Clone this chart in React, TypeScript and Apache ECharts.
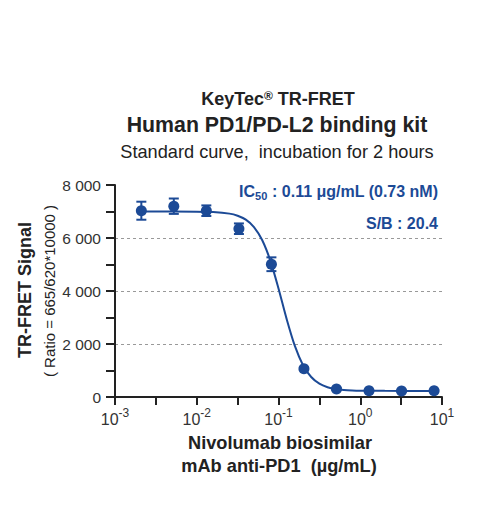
import React, { useEffect, useRef } from 'react';
import * as echarts from 'echarts';

// Concentrations (µg/mL) of the measured points
const concentrations = [0.0021, 0.00524, 0.0131, 0.0328, 0.0819, 0.2048, 0.512, 1.28, 3.2, 8];
// Mean TR-FRET signal and SD
const signalMean = [7030, 7200, 7030, 6350, 5010, 1070, 300, 240, 225, 235];
const signalSD = [340, 290, 200, 200, 260, 50, 40, 30, 30, 30];
// Fitted curve (log10 concentration, signal)
const fitLogConc = [-2.68, -2.0, -1.8, -1.6, -1.5, -1.4, -1.3, -1.2, -1.1, -1.0, -0.9, -0.8, -0.7, -0.6, -0.5, -0.4, -0.3, -0.2, -0.1, 0, 0.3, 0.9];
const fitSignal = [7000, 6995, 6980, 6920, 6840, 6694, 6415, 5924, 5147, 4095, 2938, 1927, 1201, 755, 503, 370, 301, 266, 248, 239, 232, 230];
// Axis ranges / ticks
const xExpMin = -3;
const xExpMax = 1;
const yMin = 0;
const yMax = 8000;
const yStep = 2000;

const BLUE = '#1c4a96';
const DARK = '#222';
const FONT = 'Liberation Sans';

function txt(x: number, y: number, text: string, size: number, bold: boolean, extra: any = {}) {
  return {
    type: 'text',
    x,
    y,
    ...extra.el,
    style: {
      text,
      align: 'center',
      verticalAlign: 'middle',
      fontFamily: FONT,
      fontSize: size,
      fontWeight: bold ? 'bold' : 'normal',
      fill: DARK,
      ...extra.style,
    },
  };
}

export default function App() {
  const ref = useRef<HTMLDivElement>(null);
  useEffect(() => {
    document.body.style.margin = '0';
    const chart = echarts.init(ref.current!, null, { renderer: 'svg' });
    const logX = concentrations.map((c) => Math.log10(c));
    const scatterData = logX.map((x, i) => [x, signalMean[i]]);
    const errData = logX.map((x, i) => [x, signalMean[i] - signalSD[i], signalMean[i] + signalSD[i]]);
    const fitData = fitLogConc.map((x, i) => [x, fitSignal[i]]);

    const option: any = {
      animation: false,
      textStyle: { fontFamily: FONT },
      grid: { left: 115, right: 47, top: 185, bottom: 113, outerBoundsMode: 'none', containLabel: false },
      xAxis: {
        type: 'value',
        min: xExpMin,
        max: xExpMax,
        interval: 0.5,
        axisLine: { show: true, onZero: false, lineStyle: { color: DARK, width: 2 } },
        axisTick: { show: true, length: 8, lineStyle: { color: DARK, width: 2 } },
        splitLine: { show: false },
        axisLabel: {
          margin: 10,
          color: '#333',
          fontFamily: FONT,
          formatter: (v: number) => (Number.isInteger(v) ? `{b|10}{s|${v}}` : ''),
          rich: {
            b: { fontSize: 16, color: '#333', fontFamily: FONT, verticalAlign: 'bottom', lineHeight: 20 },
            s: { fontSize: 12, color: '#333', fontFamily: FONT, verticalAlign: 'top', lineHeight: 20 },
          },
        },
      },
      yAxis: {
        type: 'value',
        min: yMin,
        max: yMax,
        interval: yStep,
        axisLine: { show: true, onZero: false, lineStyle: { color: DARK, width: 2 } },
        axisTick: { show: true, length: 9, lineStyle: { color: DARK, width: 2 } },
        minorTick: { show: true, splitNumber: 2, length: 9, lineStyle: { color: DARK, width: 2 } },
        splitLine: {
          show: true,
          showMinLine: false,
          showMaxLine: false,
          lineStyle: { color: '#999', type: [3, 3], width: 1 },
        },
        axisLabel: {
          margin: 14,
          fontSize: 15.5,
          color: '#333',
          fontFamily: FONT,
          formatter: (v: number) => (v === 0 ? '0' : `${v / 1000} 000`),
        },
      },
      graphic: [
        txt(278, 99, 'KeyTec{r|®} TR-FRET', 18, true, {
          style: { rich: { r: { fontSize: 12, fontWeight: 'bold', verticalAlign: 'top', fill: DARK, fontFamily: FONT } } },
        }),
        txt(277, 125, 'Human PD1/PD-L2 binding kit', 21.3, true),
        txt(277, 152, 'Standard curve,  incubation for 2 hours', 18.2, false),
        txt(438, 191, '{a|IC}{b|50}{a| : 0.11 μg/mL (0.73 nM)}', 16, true, {
          style: {
            align: 'right',
            rich: {
              a: { fontSize: 16, fontWeight: 'bold', fill: BLUE, fontFamily: FONT, verticalAlign: 'middle', lineHeight: 20 },
              b: { fontSize: 11, fontWeight: 'bold', fill: BLUE, fontFamily: FONT, verticalAlign: 'bottom', lineHeight: 20 },
            },
          },
        }),
        txt(438, 223, 'S/B : 20.4', 16, true, { style: { align: 'right', fill: BLUE } }),
        txt(25, 290, 'TR-FRET Signal', 18, true, { el: { rotation: Math.PI / 2 } }),
        txt(49, 291, '( Ratio = 665/620*10000 )', 15, false, { el: { rotation: Math.PI / 2 } }),
        txt(280, 443, 'Nivolumab biosimilar', 18.2, true),
        txt(279, 466, 'mAb anti-PD1  (µg/mL)', 18.2, true),
      ],
      series: [
        {
          type: 'line',
          data: fitData,
          smooth: 0.3,
          showSymbol: false,
          symbol: 'none',
          lineStyle: { color: BLUE, width: 2 },
          z: 2,
        },
        {
          type: 'custom',
          data: errData,
          encode: { x: 0, y: [1, 2] },
          z: 3,
          renderItem: (params: any, api: any) => {
            const x = api.value(0);
            const p1 = api.coord([x, api.value(1)]);
            const p2 = api.coord([x, api.value(2)]);
            const w = 5;
            const st = { stroke: BLUE, lineWidth: 2 };
            return {
              type: 'group',
              children: [
                { type: 'line', shape: { x1: p1[0], y1: p1[1], x2: p2[0], y2: p2[1] }, style: st },
                { type: 'line', shape: { x1: p1[0] - w, y1: p1[1], x2: p1[0] + w, y2: p1[1] }, style: st },
                { type: 'line', shape: { x1: p2[0] - w, y1: p2[1], x2: p2[0] + w, y2: p2[1] }, style: st },
              ],
            };
          },
        },
        {
          type: 'scatter',
          data: scatterData,
          symbol: 'circle',
          symbolSize: 11,
          itemStyle: { color: BLUE, opacity: 1 },
          z: 4,
        },
      ],
    };
    chart.setOption(option);
    return () => chart.dispose();
  }, []);
  return <div ref={ref} style={{ width: 489, height: 510 }} />;
}
